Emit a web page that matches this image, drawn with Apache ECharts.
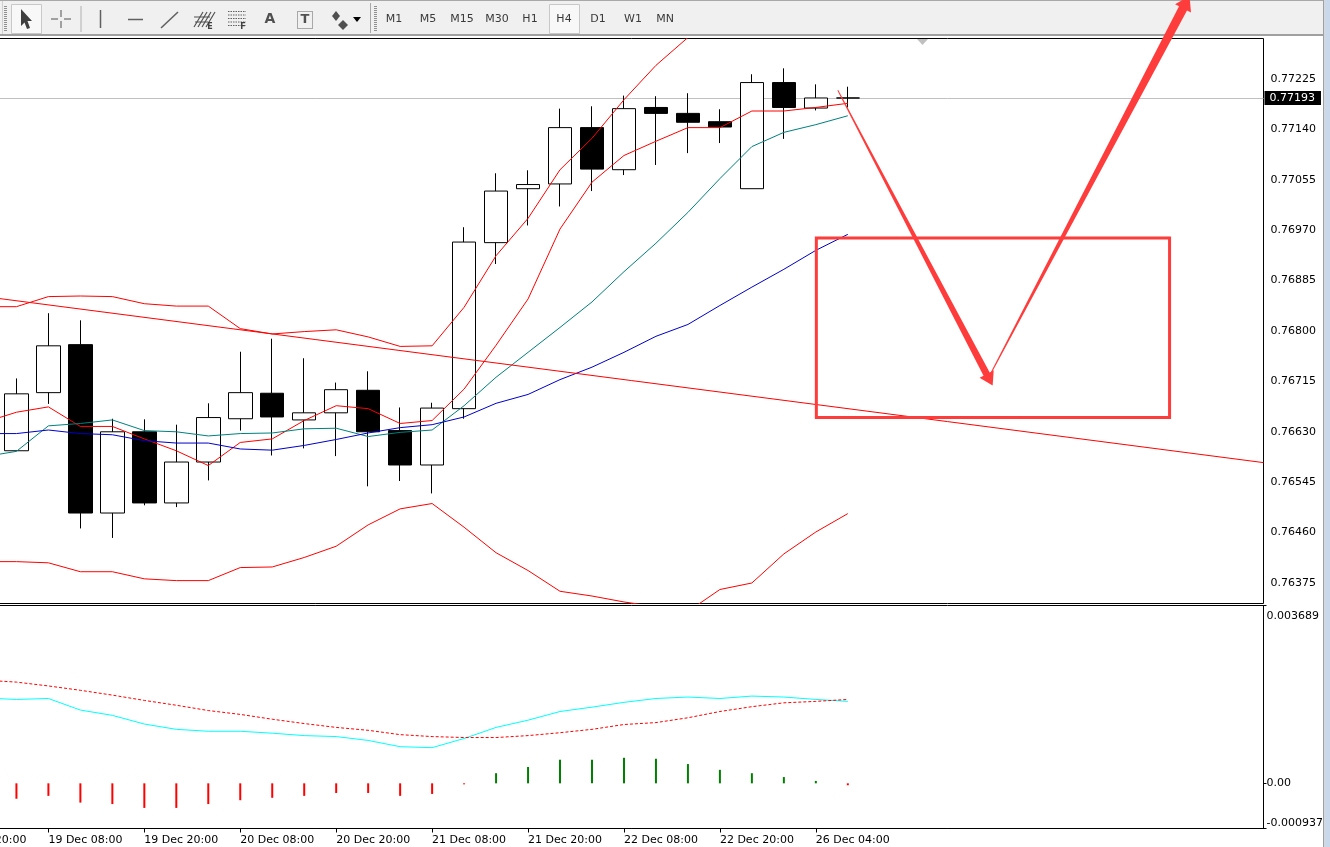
<!DOCTYPE html>
<html>
<head>
<meta charset="utf-8">
<style>html,body{margin:0;padding:0;background:#fff}#chart{width:1330px;height:847px}</style>
<script src="https://cdn.jsdelivr.net/npm/echarts@6/dist/echarts.min.js"></script>
</head>
<body>
<div id="chart"></div>
<script>
// H4 bar times; every category sits 32 px apart, bars beyond the last one are empty space
const barTimes = ['18 Dec 16:00','18 Dec 20:00','19 Dec 00:00','19 Dec 04:00','19 Dec 08:00','19 Dec 12:00','19 Dec 16:00','19 Dec 20:00','20 Dec 00:00','20 Dec 04:00','20 Dec 08:00','20 Dec 12:00','20 Dec 16:00','20 Dec 20:00','21 Dec 00:00','21 Dec 04:00','21 Dec 08:00','21 Dec 12:00','21 Dec 16:00','21 Dec 20:00','22 Dec 00:00','22 Dec 04:00','22 Dec 08:00','22 Dec 12:00','22 Dec 16:00','22 Dec 20:00','23 Dec 00:00','26 Dec 00:00','26 Dec 04:00','26 Dec 08:00','','','','','','','','','','','','',''];

// Candles, first one at category 3
const opens  = [0.76598,0.76696,0.76777,0.76493,0.76630,0.76510,0.76579,0.76652,0.76695,0.76650,0.76662,0.76700,0.76632,0.76574,0.76669,0.76949,0.77040,0.77048,0.77143,0.77072,0.77177,0.77167,0.77153,0.77040,0.77219,0.77176,0.77193];
const closes = [0.76694,0.76775,0.76493,0.76630,0.76510,0.76579,0.76654,0.76696,0.76655,0.76662,0.76701,0.76630,0.76574,0.76670,0.76950,0.77036,0.77047,0.77143,0.77073,0.77175,0.77167,0.77152,0.77144,0.77219,0.77177,0.77193,0.77193];
const lows   = [0.76598,0.76677,0.76467,0.76451,0.76506,0.76503,0.76548,0.76632,0.76590,0.76602,0.76589,0.76538,0.76547,0.76526,0.76652,0.76913,0.76978,0.77010,0.77036,0.77063,0.77080,0.77100,0.77117,0.77040,0.77124,0.77172,0.77177];
const highs  = [0.76720,0.76830,0.76818,0.76652,0.76651,0.76642,0.76678,0.76765,0.76787,0.76754,0.76713,0.76732,0.76671,0.76679,0.76975,0.77066,0.77071,0.77175,0.77179,0.77197,0.77196,0.77201,0.77174,0.77233,0.77243,0.77216,0.77212];

// Indicator lines, first point at category 2
const bandUpper = [0.76841,0.76841,0.76858,0.76859,0.76858,0.76846,0.76842,0.76842,0.76804,0.76795,0.76799,0.76802,0.76790,0.76774,0.76775,0.76840,0.76927,0.76990,0.77072,0.77125,0.77190,0.77248,0.77295,0.77341];
const bandLower = [0.76411,0.76411,0.76409,0.76394,0.76394,0.76382,0.76379,0.76379,0.76401,0.76402,0.76418,0.76437,0.76473,0.76500,0.76509,0.76469,0.76426,0.76396,0.76361,0.76353,0.76343,0.76335,0.76327,0.76364,0.76375,0.76424,0.76461,0.76492];
const fastMa = [0.76646,0.76663,0.76672,0.76639,0.76639,0.76618,0.76598,0.76573,0.76612,0.76618,0.76649,0.76674,0.76669,0.76644,0.76649,0.76702,0.76776,0.76854,0.76972,0.77051,0.77096,0.77120,0.77143,0.77143,0.77171,0.77171,0.77177,0.77184];
const midMa  = [0.76588,0.76597,0.76640,0.76644,0.76650,0.76632,0.76630,0.76623,0.76627,0.76628,0.76635,0.76636,0.76622,0.76629,0.76633,0.76674,0.76722,0.76764,0.76806,0.76849,0.76900,0.76948,0.77000,0.77057,0.77111,0.77135,0.77148,0.77163];
const slowMa = [0.76627,0.76627,0.76633,0.76627,0.76625,0.76615,0.76611,0.76611,0.76601,0.76599,0.76607,0.76617,0.76628,0.76637,0.76642,0.76655,0.76678,0.76693,0.76718,0.76739,0.76764,0.76791,0.76811,0.76843,0.76874,0.76904,0.76936,0.76963];

// Lower panel: histogram from category 3, both lines from category 2
const macdHist = [-0.00032,-0.00026,-0.00040,-0.00043,-0.00051,-0.00051,-0.00043,-0.00035,-0.00030,-0.00026,-0.00020,-0.00020,-0.00026,-0.00022,-0.00002,0.00021,0.00034,0.00049,0.00049,0.00053,0.00051,0.00040,0.00028,0.00021,0.00013,0.00005,-0.00004];
const macdLine = [0.00177,0.00174,0.00176,0.00152,0.00141,0.00123,0.00112,0.00108,0.00108,0.00104,0.00099,0.00097,0.00089,0.00076,0.00074,0.00093,0.00116,0.00131,0.00149,0.00158,0.00168,0.00176,0.00179,0.00176,0.00181,0.00179,0.00174,0.00170];
const macdSignal = [0.00214,0.00210,0.00202,0.00193,0.00183,0.00172,0.00162,0.00151,0.00143,0.00133,0.00124,0.00116,0.00110,0.00101,0.00097,0.00095,0.00095,0.00099,0.00105,0.00112,0.00122,0.00126,0.00136,0.00149,0.00159,0.00167,0.00170,0.00174];

// Axis ticks
const priceTicks = [0.76375,0.76460,0.76545,0.76630,0.76715,0.76800,0.76885,0.76970,0.77055,0.77140,0.77225];
const macdTicks = [-0.000937,0,0.003689];
const currentPrice = 0.77193;

// Hand-drawn objects, as [bar position, price]
const trendLine = [[2,0.76858],[42,0.76578]];
const zoneCorners = [[28.016,0.76957],[39.0625,0.76654]];
const arrowDown = [[28.6875,0.77206],[33.53,0.76708]];
const arrowUp = [[33.4375,0.76725],[39.6875,0.77365]];

// Toolbar captions
const timeframes = ['M1','M5','M15','M30','H1','H4','D1','W1','MN'];
const timeframeX = [394,428,462,497,530,564,598,633,665];

const onBars = (values, first) => values.map((v, i) => [first + i, v]);
const uiFont = 'DejaVu Sans';
const RED = '#ff3c3c';

function thinLine(name, values, color, first, extra) {
  return Object.assign({
    name, type: 'line', data: onBars(values, first), symbol: 'none', z: 4,
    lineStyle: { color, width: 1 }, animation: false, silent: true
  }, extra || {});
}

// Arrow whose shaft widens from a hairline to a thick end before the head
function taperedArrow(api, ends, startHalf, endHalf, headLen, headHalf) {
  const a = api.coord(ends[0]), b = api.coord(ends[1]);
  const len = Math.hypot(b[0] - a[0], b[1] - a[1]);
  const ux = (b[0] - a[0]) / len, uy = (b[1] - a[1]) / len, nx = -uy, ny = ux;
  const bx = b[0] - ux * headLen, by = b[1] - uy * headLen;
  return {
    type: 'polygon', silent: true,
    shape: { points: [
      [a[0] + nx * startHalf, a[1] + ny * startHalf],
      [bx + nx * endHalf, by + ny * endHalf],
      [bx + nx * headHalf, by + ny * headHalf],
      b,
      [bx - nx * headHalf, by - ny * headHalf],
      [bx - nx * endHalf, by - ny * endHalf],
      [a[0] - nx * startHalf, a[1] - ny * startHalf]
    ] },
    style: { fill: RED }
  };
}

function drawAnnotations(params, api) {
  const p0 = api.coord(zoneCorners[0]), p1 = api.coord(zoneCorners[1]);
  return {
    type: 'group',
    children: [
      { type: 'rect', silent: true,
        shape: { x: p0[0], y: p0[1], width: p1[0] - p0[0], height: p1[1] - p0[1] },
        style: { fill: 'none', stroke: RED, lineWidth: 3 } },
      taperedArrow(api, arrowDown, 0.5, 3.5, 13, 8),
      taperedArrow(api, arrowUp, 0.5, 4.5, 14, 9)
    ]
  };
}

// Toolbar pieces
const G = [];
const ln = (x1, y1, x2, y2, stroke, w, dash) => G.push({ type: 'line', silent: true, z: 1,
  shape: { x1, y1, x2, y2 }, style: { stroke: stroke || '#505050', lineWidth: w || 1, lineDash: dash } });
const box = (x, y, width, height, fill, stroke, dash) => G.push({ type: 'rect', silent: true, z: 1,
  shape: { x, y, width, height }, style: { fill: fill || 'none', stroke: stroke || 'none', lineWidth: 1, lineDash: dash } });
const poly = (points, fill) => G.push({ type: 'polygon', silent: true, z: 1, shape: { points }, style: { fill } });
const txt = (text, x, y, font, fill) => G.push({ type: 'text', silent: true, z: 1,
  style: { text, x, y, font, fill: fill || '#404040', textAlign: 'center', textVerticalAlign: 'middle' } });

box(0, 0, 1324, 35, '#f0f0f0');
box(0, 0, 1324, 1, '#a8a8a8');
box(0, 34, 1324, 2, '#a0a0a0');
box(1323, 0, 1, 847, '#a0a0a0');
box(1324, 0, 6, 847, '#c9d8ea');
box(1324, 0, 1, 847, '#d8d8d8');
box(370, 3, 1, 30, '#a8a8a8');
box(2, 1, 1, 33, '#d0d0d0');
ln(5.5, 6, 5.5, 31, '#909090', 3, [1, 1]);
ln(375.5, 6, 375.5, 31, '#909090', 3, [1, 1]);
box(11.5, 4.5, 30, 29, '#f8f8f8', '#c8c8c8');
box(549.5, 4.5, 30, 29, '#f8f8f8', '#c8c8c8');
box(80.5, 6, 1, 26, '#b0b0b0');
// pointer
poly([[21, 9], [32, 21], [27.5, 21], [30, 28], [27, 29], [24.5, 22.5], [21, 26]], '#404040');
// crosshair
ln(61, 10, 61, 17); ln(61, 21, 61, 28); ln(51, 19, 58, 19); ln(64, 19, 71, 19);
// line tools
ln(100.5, 10, 100.5, 28, '#606060', 1.5);
ln(128, 19.5, 143, 19.5, '#606060', 1.5);
ln(161, 28, 178, 12, '#606060', 1.5);
for (let i = 0; i < 4; i++) ln(194 + i * 4, 27, 203 + i * 4, 12, '#505050', 1.2);
ln(194, 17, 210, 17, '#505050', 1); ln(195, 22, 208, 22, '#505050', 1);
txt('E', 210, 27, 'bold 8px ' + uiFont);
for (let i = 0; i < 5; i++) ln(228, 11.5 + i * 3.5, 246, 11.5 + i * 3.5, '#606060', 1, [1.5, 1]);
txt('F', 243, 27, 'bold 8px ' + uiFont);
txt('A', 270, 19, 'bold 14px ' + uiFont, '#505050');
box(297.5, 11.5, 15, 17, 'none', '#606060', [1, 1]);
txt('T', 305, 20, 'bold 13px ' + uiFont, '#505050');
poly([[336, 11], [340, 16], [336, 21], [332, 16]], '#505050');
poly([[343, 20], [348, 25], [343, 30], [338, 25]], '#505050');
poly([[353, 17], [361, 17], [357, 22]], '#000');
timeframes.forEach((t, i) => txt(t, timeframeX[i], 19, '11px ' + uiFont, '#3a3a3a'));
// shift marker hanging from the top edge
poly([[917, 39], [928, 39], [922.5, 45]], '#c0c0c0');

const labelFont = { fontFamily: uiFont, fontSize: 11, color: '#000' };

const chart = echarts.init(document.getElementById('chart'), null, { renderer: 'canvas' });
chart.setOption({
  animation: false,
  backgroundColor: '#fff',
  graphic: { elements: G },
  grid: [
    { left: -79.5, width: 1343, top: 38.5, height: 565, outerBoundsMode: 'none', containLabel: false,
      show: true, borderColor: '#000', borderWidth: 1, backgroundColor: 'transparent' },
    { left: -79.5, width: 1343, top: 605.5, height: 223, outerBoundsMode: 'none', containLabel: false,
      show: true, borderColor: '#000', borderWidth: 1, backgroundColor: 'transparent' }
  ],
  xAxis: [
    { type: 'category', gridIndex: 0, data: barTimes, boundaryGap: false,
      axisLine: { show: false, onZero: false }, axisTick: { show: false }, axisLabel: { show: false }, splitLine: { show: false } },
    { type: 'category', gridIndex: 1, data: barTimes, boundaryGap: false,
      axisLine: { onZero: false, lineStyle: { color: '#000' } },
      axisTick: { length: 4, lineStyle: { color: '#000' }, interval: i => i % 3 === 1 && i <= 28 },
      axisLabel: Object.assign({ interval: i => i % 3 === 1 && i <= 28, align: 'left', verticalAlign: 'top', margin: 6,
        hideOverlap: false }, labelFont),
      splitLine: { show: false } },
    // fractional bar positions for the hand-drawn objects
    { type: 'value', gridIndex: 0, min: 0, max: 42, show: false, splitLine: { show: false } }
  ],
  yAxis: [
    { type: 'value', gridIndex: 0, position: 'right', min: 0.763404, max: 0.772933, scale: true,
      axisLine: { show: true, lineStyle: { color: '#000' } },
      axisTick: { show: true, length: 3, lineStyle: { color: '#000' }, customValues: priceTicks },
      axisLabel: Object.assign({ customValues: priceTicks, formatter: v => v.toFixed(5), margin: 7 }, labelFont),
      splitLine: { show: false } },
    { type: 'value', gridIndex: 1, position: 'right', min: macdTicks[0], max: macdTicks[2],
      axisLine: { show: true, lineStyle: { color: '#000' } },
      axisTick: { show: true, length: 3, lineStyle: { color: '#000' }, customValues: macdTicks },
      axisLabel: Object.assign({ customValues: macdTicks, margin: 3,
        formatter: v => v === 0 ? '0.00' : (v === macdTicks[2] ? '{upper|' + v.toFixed(6) + '}' : v.toFixed(6)),
        rich: { upper: Object.assign({ padding: [5, 0, 0, 0] }, labelFont) },
        verticalAlignMinLabel: 'bottom', verticalAlignMaxLabel: 'top' }, labelFont),
      splitLine: { show: false } }
  ],
  series: [
    { name: 'Bid', type: 'line', data: [], z: 1, silent: true,
      markLine: { z: 1, silent: true, animation: false, symbol: ['none', 'none'], precision: 5,
        lineStyle: { color: '#c0c0c0', width: 1, type: 'solid' },
        label: { position: 'end', distance: 1, formatter: () => currentPrice.toFixed(5),
          backgroundColor: '#000', color: '#fff', fontFamily: uiFont, fontSize: 11, padding: [1, 6, 2, 5] },
        data: [{ yAxis: currentPrice }] } },
    { name: 'EURCHF', type: 'candlestick', z: 3, barWidth: 24, silent: true,
      data: opens.map((o, i) => [i + 3, o, closes[i], lows[i], highs[i]]),
      encode: { x: 0, y: [1, 2, 3, 4] },
      itemStyle: { color: '#fff', color0: '#000', borderColor: '#000', borderColor0: '#000', borderColorDoji: '#000', borderWidth: 1 } },
    thinLine('Upper band', bandUpper, '#f00', 2),
    thinLine('Lower band', bandLower, '#f00', 2),
    thinLine('Fast MA', fastMa, '#f00', 2),
    thinLine('Middle MA', midMa, '#008080', 2),
    thinLine('Slow MA', slowMa, '#0000cd', 2),
    { name: 'Trend line', type: 'line', data: trendLine, symbol: 'none', z: 4, silent: true,
      lineStyle: { color: '#f00', width: 1 } },
    { name: 'Histogram', type: 'bar', xAxisIndex: 1, yAxisIndex: 1, barWidth: 2, silent: true,
      data: onBars(macdHist, 3),
      itemStyle: { color: p => p.value[1] < 0 ? '#f00' : '#008000' } },
    thinLine('MACD', macdLine, '#00ffff', 2, { xAxisIndex: 1, yAxisIndex: 1 }),
    thinLine('Signal', macdSignal, '#f00', 2, { xAxisIndex: 1, yAxisIndex: 1,
      lineStyle: { color: '#f00', width: 1, type: [3, 2] } }),
    { name: 'Drawings', type: 'custom', xAxisIndex: 2, yAxisIndex: 0, z: 10, silent: true, clip: false,
      data: [[0, currentPrice]], renderItem: drawAnnotations }
  ]
});
</script>
</body>
</html>
